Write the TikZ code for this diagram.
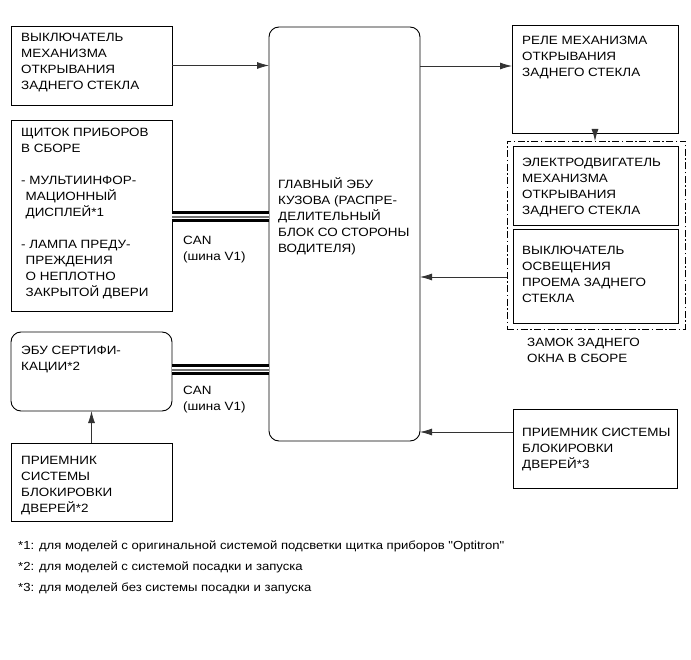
\documentclass[tikz,border=0pt]{standalone}
\usepackage{fontspec}
\setmainfont{Liberation Sans}[FakeStretch=1.12, Ligatures=TeXOff]
\usetikzlibrary{arrows.meta}
\newcommand{\fs}{\rule{0pt}{11pt}}
\begin{document}
\begin{tikzpicture}[x=1pt,y=-1pt,
  box/.style={draw=black, line width=0.9pt, anchor=north west, inner sep=0pt, outer sep=0pt},
  rbox/.style={box, rounded corners=10pt},
  grpbox/.style={box, dash pattern=on 7pt off 2.5pt on 1.5pt off 2.5pt},
  lbl/.style={anchor=north west, inner sep=0pt, align=left, font=\fontsize{12}{16}\selectfont},
  note/.style={anchor=north west, inner sep=0pt, align=left, font=\fontsize{11.7}{21}\selectfont},
  arr/.style={draw=black!80, line width=0.8pt, -{Latex[length=12pt,width=7pt]}},
  canbus/.style={line width=11pt, draw=black},
  canwhite/.style={line width=5pt, draw=white},
  canmid/.style={line width=1.4pt, draw=black!55},
]
\useasboundingbox (0,0) rectangle (691,660);

% boxes
\node[box, minimum width=161pt, minimum height=79pt] (sw) at (11,26) {};
\node[box, minimum width=161pt, minimum height=191pt] (ip) at (11,120) {};
\node[rbox, minimum width=161pt, minimum height=79pt] (cert) at (11,332) {};
\node[box, minimum width=161pt, minimum height=78pt] (lrx) at (11,443) {};
\node[rbox, minimum width=151pt, minimum height=414pt] (bcm) at (269,27) {};
\node[box, minimum width=166pt, minimum height=108pt] (relay) at (512,25) {};
\node[grpbox, minimum width=178pt, minimum height=188pt] (grp) at (507,141) {};
\node[box, minimum width=165pt, minimum height=79pt] (motor) at (513,146) {};
\node[box, minimum width=165pt, minimum height=94pt] (lsw) at (513,229) {};
\node[box, minimum width=164pt, minimum height=79pt] (rrx) at (513,409) {};

% labels
\node[lbl] (swt) at (21,30) {\fs ВЫКЛЮЧАТЕЛЬ\\МЕХАНИЗМА\\ОТКРЫВАНИЯ\\ЗАДНЕГО СТЕКЛА};
\node[lbl] (ipt) at (21,125) {\fs ЩИТОК ПРИБОРОВ\\В СБОРЕ\\[16pt]- МУЛЬТИИНФОР-\\\hspace*{4.5pt}МАЦИОННЫЙ\\\hspace*{4.5pt}ДИСПЛЕЙ*1\\[16pt]- ЛАМПА ПРЕДУ-\\\hspace*{4.5pt}ПРЕЖДЕНИЯ\\\hspace*{4.5pt}О НЕПЛОТНО\\\hspace*{4.5pt}ЗАКРЫТОЙ ДВЕРИ};
\node[lbl] (certt) at (21,343) {\fs ЭБУ СЕРТИФИ-\\КАЦИИ*2};
\node[lbl] (lrxt) at (21,453) {\fs ПРИЕМНИК\\СИСТЕМЫ\\БЛОКИРОВКИ\\ДВЕРЕЙ*2};
\node[lbl] (bcmt) at (278,177) {\fs ГЛАВНЫЙ ЭБУ\\КУЗОВА (РАСПРЕ-\\ДЕЛИТЕЛЬНЫЙ\\БЛОК СО СТОРОНЫ\\ВОДИТЕЛЯ)};
\node[lbl] (can1) at (183,233) {\fs CAN\\(шина V1)};
\node[lbl] (can2) at (183,383) {\fs CAN\\(шина V1)};
\node[lbl] (relayt) at (522,33) {\fs РЕЛЕ МЕХАНИЗМА\\ОТКРЫВАНИЯ\\ЗАДНЕГО СТЕКЛА};
\node[lbl] (motort) at (522,155) {\fs ЭЛЕКТРОДВИГАТЕЛЬ\\МЕХАНИЗМА\\ОТКРЫВАНИЯ\\ЗАДНЕГО СТЕКЛА};
\node[lbl] (lswt) at (522,243) {\fs ВЫКЛЮЧАТЕЛЬ\\ОСВЕЩЕНИЯ\\ПРОЕМА ЗАДНЕГО\\СТЕКЛА};
\node[lbl] (grpt) at (527,335) {\fs ЗАМОК ЗАДНЕГО\\ОКНА В СБОРЕ};
\node[lbl] (rrxt) at (522,425) {\fs ПРИЕМНИК СИСТЕМЫ\\БЛОКИРОВКИ\\ДВЕРЕЙ*3};

% footnotes
\node[note] (notes) at (18,538.5) {\fs *1: для моделей с оригинальной системой подсветки щитка приборов "Optitron"\\*2: для моделей с системой посадки и запуска\\*3: для моделей без системы посадки и запуска};

% CAN buses
\path (ip.east |- 0,217) coordinate (canA1) (bcm.west |- 0,217) coordinate (canA2);
\path (cert.east |- 0,370) coordinate (canB1) (bcm.west |- 0,370) coordinate (canB2);
\foreach \a/\b in {canA1/canA2, canB1/canB2} {
  \draw[canbus] (\a) -- (\b);
  \draw[canwhite] (\a) -- (\b);
  \draw[canmid] (\a) -- (\b);
}

% arrows
\draw[arr] (sw.east) -- (sw.east -| bcm.west);
\path (bcm.east |- 0,66) coordinate (o1) (relay.west |- 0,66) coordinate (o1e);
\draw[arr] (o1) -- (o1e);
\draw[arr] (relay.south) -- (grp.north -| relay.south);
\path (grp.west |- 0,277) coordinate (o2) (bcm.east |- 0,277) coordinate (o2e);
\draw[arr] (o2) -- (o2e);
\path (rrx.west |- 0,432) coordinate (o3) (bcm.east |- 0,432) coordinate (o3e);
\draw[arr] (o3) -- (o3e);
\draw[arr] (lrx.north) -- (cert.south);
\end{tikzpicture}
\end{document}
